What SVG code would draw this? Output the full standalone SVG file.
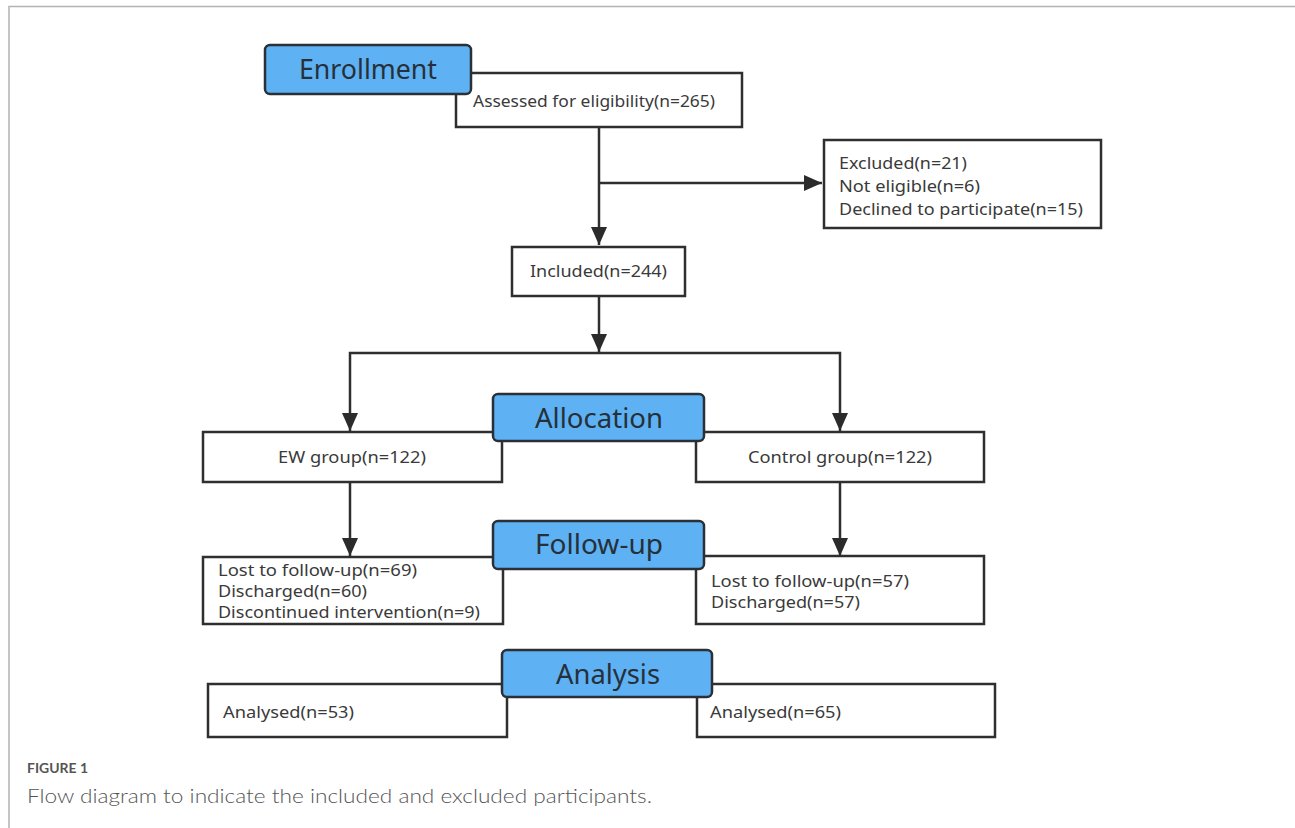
<svg xmlns="http://www.w3.org/2000/svg" width="1295" height="828" viewBox="0 0 1295 828">
<defs>
<marker id="arr" markerUnits="userSpaceOnUse" markerWidth="20" markerHeight="16" viewBox="0 0 20 16" refX="18" refY="8" orient="auto">
<path d="M0,0 L18,8 L0,16 Z" fill="#2b2b2b"/>
</marker>
<style>
.box{fill:#ffffff;stroke:#2f2f2f;stroke-width:2.5}
.stage{fill:#5eb1f3;stroke:#2b2f36;stroke-width:2.5}
.t{font-family:"Noto Sans","Open Sans","DejaVu Sans",sans-serif;font-size:17px;fill:#3a3a3a}
.h{font-family:"Noto Sans","Open Sans","DejaVu Sans",sans-serif;font-size:27px;fill:#26303a}
.c{fill:none;stroke:#2f2f2f;stroke-width:2.5}
.frame{stroke:#b3b3b3;stroke-width:1.5;fill:none}
</style>
</defs>
<rect width="1295" height="828" fill="#ffffff"/>
<path class="frame" d="M9,828 L9,6.5 L1295,6.5"/>

<g id="connectors">
<path class="c" d="M599,127 L599,245" marker-end="url(#arr)"/>
<path class="c" d="M599,183 L822,183" marker-end="url(#arr)"/>
<path class="c" d="M599,296 L599,352" marker-end="url(#arr)"/>
<path class="c" d="M350,400 L350,353 L840,353 L840,400"/>
<path class="c" d="M350,400 L350,431" marker-end="url(#arr)"/>
<path class="c" d="M840,400 L840,431" marker-end="url(#arr)"/>
<path class="c" d="M350,483 L350,556" marker-end="url(#arr)"/>
<path class="c" d="M840,483 L840,556" marker-end="url(#arr)"/>
</g>

<g id="assessed">
<rect class="box" x="456" y="73" width="286" height="54"/>
<text class="t" x="473" y="107" textLength="242" lengthAdjust="spacingAndGlyphs">Assessed for eligibility(n=265)</text>
</g>
<g id="enrollment">
<rect class="stage" x="265" y="45" width="206" height="49" rx="5"/>
<text class="h" x="299" y="79" textLength="138" lengthAdjust="spacingAndGlyphs">Enrollment</text>
</g>

<g id="excluded">
<rect class="box" x="824" y="140" width="277" height="88"/>
<text class="t" x="839" y="169" textLength="128" lengthAdjust="spacingAndGlyphs">Excluded(n=21)</text>
<text class="t" x="839" y="192" textLength="141" lengthAdjust="spacingAndGlyphs">Not eligible(n=6)</text>
<text class="t" x="839" y="215" textLength="244" lengthAdjust="spacingAndGlyphs">Declined to participate(n=15)</text>
</g>

<g id="included">
<rect class="box" x="512" y="247" width="173" height="49"/>
<text class="t" x="530" y="277" textLength="137" lengthAdjust="spacingAndGlyphs">Included(n=244)</text>
</g>

<g id="ew-group">
<rect class="box" x="203" y="432" width="299" height="50"/>
<text class="t" x="278" y="463" textLength="148" lengthAdjust="spacingAndGlyphs">EW group(n=122)</text>
</g>
<g id="control-group">
<rect class="box" x="696" y="432" width="288" height="50"/>
<text class="t" x="748" y="463" textLength="184" lengthAdjust="spacingAndGlyphs">Control group(n=122)</text>
</g>
<g id="allocation">
<rect class="stage" x="493" y="394" width="211" height="47" rx="5"/>
<text class="h" x="535" y="428" textLength="128" lengthAdjust="spacingAndGlyphs">Allocation</text>
</g>

<g id="ew-followup">
<rect class="box" x="203" y="557" width="300" height="67"/>
<text class="t" x="218" y="576" textLength="199" lengthAdjust="spacingAndGlyphs">Lost to follow-up(n=69)</text>
<text class="t" x="218" y="597" textLength="149" lengthAdjust="spacingAndGlyphs">Discharged(n=60)</text>
<text class="t" x="218" y="618" textLength="262" lengthAdjust="spacingAndGlyphs">Discontinued intervention(n=9)</text>
</g>
<g id="control-followup">
<rect class="box" x="696" y="556" width="288" height="68"/>
<text class="t" x="711" y="587" textLength="198" lengthAdjust="spacingAndGlyphs">Lost to follow-up(n=57)</text>
<text class="t" x="711" y="608" textLength="149" lengthAdjust="spacingAndGlyphs">Discharged(n=57)</text>
</g>
<g id="follow-up">
<rect class="stage" x="493" y="521" width="211" height="48" rx="5"/>
<text class="h" x="535" y="554" textLength="128" lengthAdjust="spacingAndGlyphs">Follow-up</text>
</g>

<g id="ew-analysed">
<rect class="box" x="208" y="684" width="299" height="53"/>
<text class="t" x="223" y="718" textLength="131" lengthAdjust="spacingAndGlyphs">Analysed(n=53)</text>
</g>
<g id="control-analysed">
<rect class="box" x="697" y="684" width="298" height="53"/>
<text class="t" x="710" y="718" textLength="131" lengthAdjust="spacingAndGlyphs">Analysed(n=65)</text>
</g>
<g id="analysis">
<rect class="stage" x="502" y="650" width="210" height="47" rx="5"/>
<text class="h" x="556" y="684" textLength="104" lengthAdjust="spacingAndGlyphs">Analysis</text>
</g>

<g id="caption">
<text x="27" y="773" font-family="Lato,'Open Sans',sans-serif" font-size="13" font-weight="bold" fill="#555555" textLength="61" lengthAdjust="spacingAndGlyphs">FIGURE 1</text>
<text x="27" y="803" font-family="Lato,'Open Sans',sans-serif" font-size="19" font-weight="300" fill="#555555" textLength="625" lengthAdjust="spacingAndGlyphs">Flow diagram to indicate the included and excluded participants.</text>
</g>
</svg>
